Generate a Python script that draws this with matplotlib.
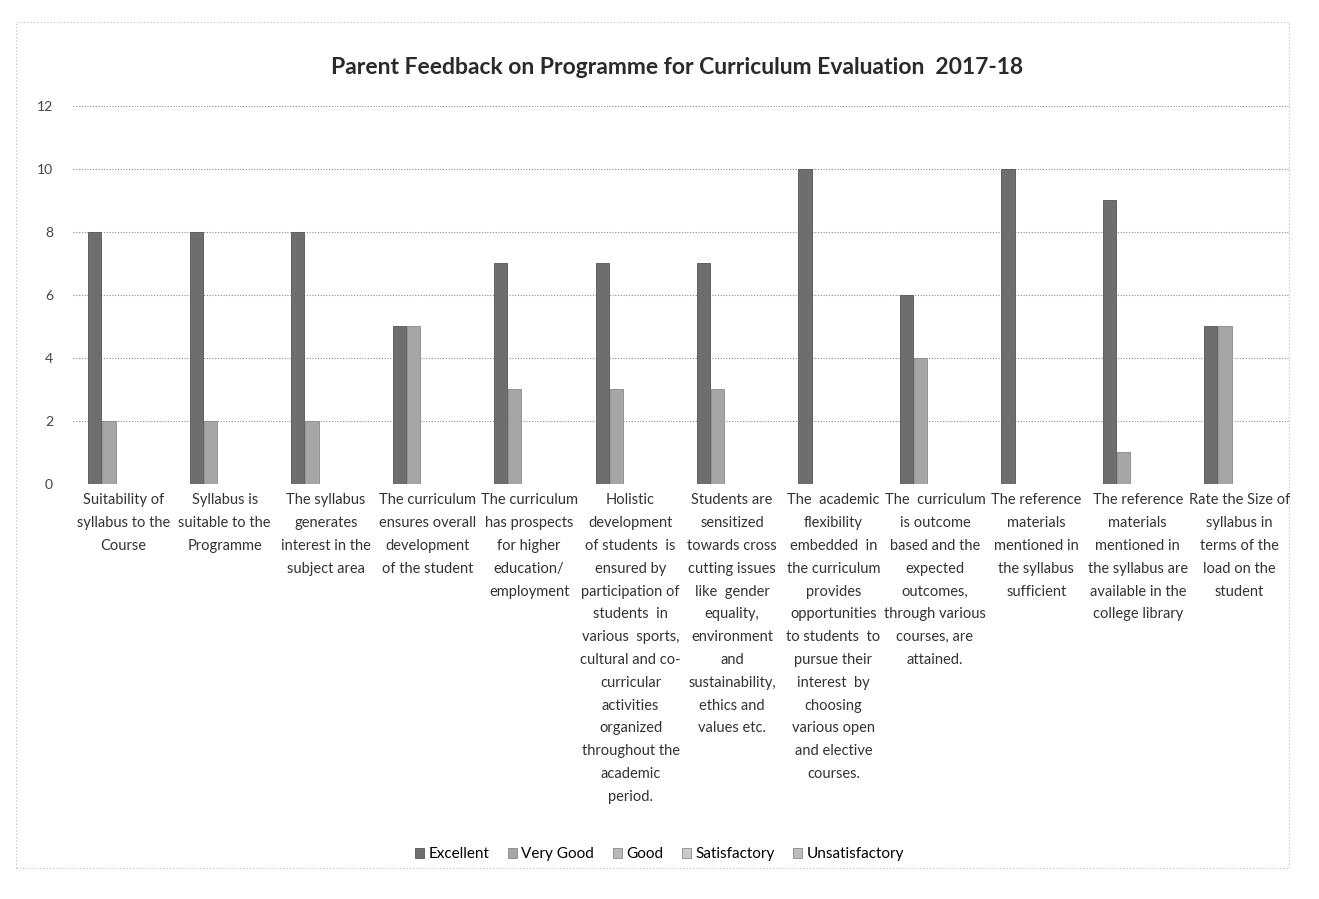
import matplotlib
matplotlib.use("Agg")
import matplotlib.pyplot as plt
import numpy as np

plt.rcParams["font.family"] = ["Lato", "DejaVu Sans"]

# chart data
categories = [
    "Suitability of\nsyllabus to the\nCourse",
    "Syllabus is\nsuitable to the\nProgramme",
    "The syllabus\ngenerates\ninterest in the\nsubject area",
    "The curriculum\nensures overall\ndevelopment\nof the student",
    "The curriculum\nhas prospects\nfor higher\neducation/\nemployment",
    "Holistic\ndevelopment\nof students  is\nensured by\nparticipation of\nstudents  in\nvarious  sports,\ncultural and co-\ncurricular\nactivities\norganized\nthroughout the\nacademic\nperiod.",
    "Students are\nsensitized\ntowards cross\ncutting issues\nlike  gender\nequality,\nenvironment\nand\nsustainability,\nethics and\nvalues etc.",
    "The  academic\nflexibility\nembedded  in\nthe curriculum\nprovides\nopportunities\nto students  to\npursue their\ninterest  by\nchoosing\nvarious open\nand elective\ncourses.",
    "The  curriculum\nis outcome\nbased and the\nexpected\noutcomes,\nthrough various\ncourses, are\nattained.",
    "The reference\nmaterials\nmentioned in\nthe syllabus\nsufficient",
    "The reference\nmaterials\nmentioned in\nthe syllabus are\navailable in the\ncollege library",
    "Rate the Size of\nsyllabus in\nterms of the\nload on the\nstudent",
]
series_names = ["Excellent", "Very Good", "Good", "Satisfactory", "Unsatisfactory"]
excellent = [8, 8, 8, 5, 7, 7, 7, 10, 6, 10, 9, 5]
very_good = [2, 2, 2, 5, 3, 3, 3, 0, 4, 0, 1, 5]
good = [0] * 12
satisfactory = [0] * 12
unsatisfactory = [0] * 12
y_ticks = [0, 2, 4, 6, 8, 10, 12]
title = "Parent Feedback on Programme for Curriculum Evaluation  2017-18"

colors = ["#6e6e6e", "#a6a6a6", "#b8b8b8", "#c9c9c9", "#bdbdbd"]

fig = plt.figure(figsize=(13.19, 8.99), dpi=100)
ax = fig.add_axes([0.055, 0.462, 0.923, 0.42])

x = np.arange(len(categories))
width = 0.13
step = 0.14
values = [excellent, very_good, good, satisfactory, unsatisfactory]
for i, (name, vals) in enumerate(zip(series_names, values)):
    ax.bar(x - 0.28 + i * step, vals, width, color=colors[i], label=name,
           edgecolor="#555555" if i == 0 else "#8a8a8a", linewidth=0.6)

ax.set_xlim(-0.5, len(categories) - 0.5)
ax.set_ylim(0, 12)
ax.set_yticks(y_ticks)
ax.tick_params(axis="y", length=0, labelsize=10, colors="#444444", pad=14)
ax.set_xticks(x)
ax.set_xticklabels(categories, fontsize=10.5, color="#333333",
                   linespacing=1.8, va="top")
ax.tick_params(axis="x", length=0, pad=7)
ax.yaxis.grid(True, linestyle=(0, (1, 1.5)), color="#8a8a8a", linewidth=0.8)
ax.set_axisbelow(True)
for s in ax.spines.values():
    s.set_visible(False)

fig.text(0.513, 0.925, title, ha="center", va="center", fontsize=16.5,
         fontweight="bold", color="#2a2a2a")

fig.legend(loc="center", bbox_to_anchor=(0.5, 0.05), ncol=5, frameon=False,
           fontsize=11, handlelength=0.6, handleheight=0.6, handletextpad=0.3,
           columnspacing=1.2)

border = plt.Rectangle((0.012, 0.035), 0.965, 0.94, transform=fig.transFigure,
                       fill=False, edgecolor="#bbbbbb", linewidth=0.8,
                       linestyle=(0, (1, 2)))
fig.patches.append(border)

fig.savefig("out.png", dpi=100)
